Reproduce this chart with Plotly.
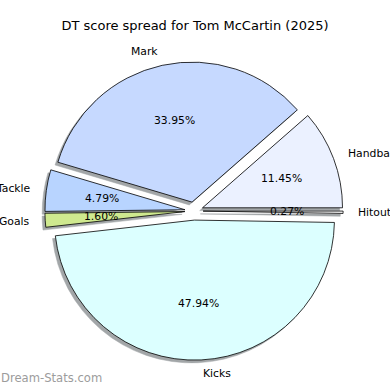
import math
import plotly.graph_objects as go

labels = ["Handball", "Mark", "Tackle", "Goals", "Kicks", "Hitout"]
percents = [11.45, 33.95, 4.79, 1.60, 47.94, 0.27]
colors = ["#ebf1ff", "#c6d9ff", "#b8d4ff", "#cfe98f", "#dcffff", "#f8f8f8"]
title_text = "DT score spread for Tom McCartin (2025)"
watermark = "Dream-Stats.com"

W = H = 390
R = 140.0                 # pie radius (px)
CX, CY = 194.0, 211.0     # pie centre (px from top-left)
EXPLODE = 0.065           # pull, fraction of radius
SHADOW = 2.8              # shadow offset (px)
PCT_R = 0.6               # percentage text radius (fraction of R)
LBL_R = 1.1               # category label radius (fraction of R)
RMAX = 1.2                # half-range of helper axes (in radii)

def sq_domain(half, dx=0.0, dy=0.0):
    cx = CX + dx
    cy = H - (CY + dy)
    return dict(x=[(cx - half) / W, (cx + half) / W],
                y=[(cy - half) / H, (cy + half) / H])

# mid-angles of the wedges (counter-clockwise from 3 o'clock), from the data
total = sum(percents)
mids, acc = [], 0.0
for p in percents:
    mids.append(math.radians((acc + p / 2) / total * 360.0))
    acc += p

# clockwise from 3 o'clock with reversed order == counter-clockwise from 3 o'clock
common = dict(labels=labels[::-1], values=percents[::-1], sort=False,
              direction="clockwise", rotation=90, hoverinfo="skip",
              textinfo="none", showlegend=False,
              pull=[EXPLODE] * len(labels))

fig = go.Figure()
# helper (invisible) cartesian axes sharing the pie centre, 1 unit = 1 radius
fig.add_trace(go.Scatter(x=[], y=[], showlegend=False, hoverinfo="skip"))
# shadow
fig.add_trace(go.Pie(**common, domain=sq_domain(R * (1 + EXPLODE), -SHADOW, SHADOW),
                     marker=dict(colors=["#a2a6a8"] * len(labels),
                                 line=dict(color="#a2a6a8", width=0.5))))
# wedges
fig.add_trace(go.Pie(**common, domain=sq_domain(R * (1 + EXPLODE)),
                     marker=dict(colors=colors[::-1], line=dict(color="black", width=0.8))))

font = dict(family="DejaVu Sans", size=10.8, color="black")
annotations = []
for lab, p, m in zip(labels, percents, mids):
    rp = PCT_R + EXPLODE
    annotations.append(dict(x=rp * math.cos(m), y=rp * math.sin(m), xref="x", yref="y",
                            text=f"{p:.2f}%", showarrow=False, xanchor="center",
                            yanchor="middle", font=font, borderpad=0))
    rl = LBL_R + EXPLODE
    xl = rl * math.cos(m)
    annotations.append(dict(x=xl, y=rl * math.sin(m), xref="x", yref="y",
                            text=lab, showarrow=False,
                            xanchor="left" if xl > 0 else "right",
                            yanchor="middle", font=font, borderpad=0))
annotations.append(dict(text=watermark, xref="paper", yref="paper", x=0, y=0.01,
                        xanchor="left", yanchor="bottom", showarrow=False, borderpad=0,
                        font=dict(family="DejaVu Sans", size=11.6, color="#9c9c9c")))

dom = sq_domain(R * RMAX)
fig.update_layout(
    width=W, height=H, autosize=False,
    margin=dict(l=0, r=0, t=0, b=0, pad=0, autoexpand=False),
    showlegend=False,
    paper_bgcolor="white", plot_bgcolor="rgba(0,0,0,0)",
    xaxis=dict(domain=dom["x"], range=[-RMAX, RMAX], visible=False, fixedrange=True),
    yaxis=dict(domain=dom["y"], range=[-RMAX, RMAX], visible=False, fixedrange=True),
    title=dict(text=title_text, x=0.5, xanchor="center", y=1 - 25 / H,
               yref="container", yanchor="middle",
               font=dict(family="DejaVu Sans", size=13, color="black")),
    annotations=annotations,
)

fig.write_html("out.html", config={"displayModeBar": False},
               post_script="document.body.style.margin='0px';")
